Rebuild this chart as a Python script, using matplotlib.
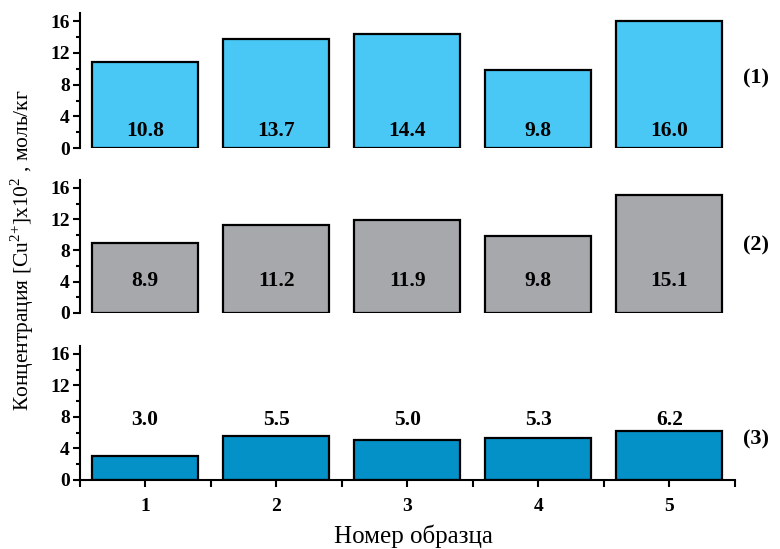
import numpy as np
import matplotlib
matplotlib.use("Agg")
import matplotlib.pyplot as plt
from matplotlib.ticker import MultipleLocator

plt.rcParams['font.family'] = ['Liberation Serif', 'DejaVu Serif']
plt.rcParams['mathtext.fontset'] = 'custom'
plt.rcParams['mathtext.rm'] = 'Liberation Serif'

# data
samples = [1, 2, 3, 4, 5]
series_1 = [10.8, 13.7, 14.4, 9.8, 16.0]
series_2 = [8.9, 11.2, 11.9, 9.8, 15.1]
series_3 = [3.0, 5.5, 5.0, 5.3, 6.2]
panel_names = ["(1)", "(2)", "(3)"]
y_ticks = [0, 4, 8, 12, 16]

panels = [
    (series_1, "#49C8F5", 2.2, 0.52),
    (series_2, "#A7A8AB", 4.1, 0.51),
    (series_3, "#0391C8", 7.6, 0.30),
]
boxes = [(0.730, 0.976), (0.430, 0.672), (0.126, 0.370)]

fig = plt.figure(figsize=(7.8, 5.49), dpi=100)
left, right = 0.102, 0.942

for i, ((vals, color, label_y, name_y), (b, t)) in enumerate(zip(panels, boxes)):
    ax = fig.add_axes([left, b, right - left, t - b])
    ax.bar(samples, vals, width=0.81, color=color, edgecolor='black', linewidth=1.6)
    for x, v in zip(samples, vals):
        ax.text(x, label_y, f"{v:.1f}", ha='center', va='center',
                fontsize=15.5, fontweight='bold')
    ax.set_xlim(0.5, 5.5)
    ax.set_ylim(0, 17)
    ax.set_yticks(y_ticks)
    ax.yaxis.set_minor_locator(MultipleLocator(2))
    ax.tick_params(axis='y', which='major', direction='out', length=5, width=1.5,
                   labelsize=14, pad=2)
    ax.tick_params(axis='y', which='minor', direction='out', length=3, width=1.5)
    for lab in ax.get_yticklabels():
        lab.set_fontweight('bold')
    for s in ['top', 'right']:
        ax.spines[s].set_visible(False)
    ax.spines['left'].set_linewidth(1.5)
    if i < 2:
        ax.spines['bottom'].set_visible(False)
        ax.set_xticks([])
    else:
        ax.spines['bottom'].set_linewidth(1.5)
        ax.set_xticks(samples)
        ax.xaxis.set_minor_locator(MultipleLocator(1, offset=0.5))
        ax.tick_params(axis='x', which='major', direction='out', length=5, width=1.5,
                       labelsize=14, pad=8)
        ax.tick_params(axis='x', which='minor', direction='out', length=5, width=1.5)
        for lab in ax.get_xticklabels():
            lab.set_fontweight('bold')
        ax.set_xlabel("Номер образца", fontsize=18)
        ax.xaxis.set_label_coords(0.51, -0.33)
    ax.text(1.032, name_y, panel_names[i], transform=ax.transAxes,
            ha='center', va='center', fontsize=16, fontweight='bold')

fig.text(0.028, 0.545, r"Концентрация [Cu$^{\text{2+}}$]x10$^{2}$ , моль/кг",
         rotation=90, ha='center', va='center', fontsize=15.5)

plt.savefig("out.png", dpi=100)
